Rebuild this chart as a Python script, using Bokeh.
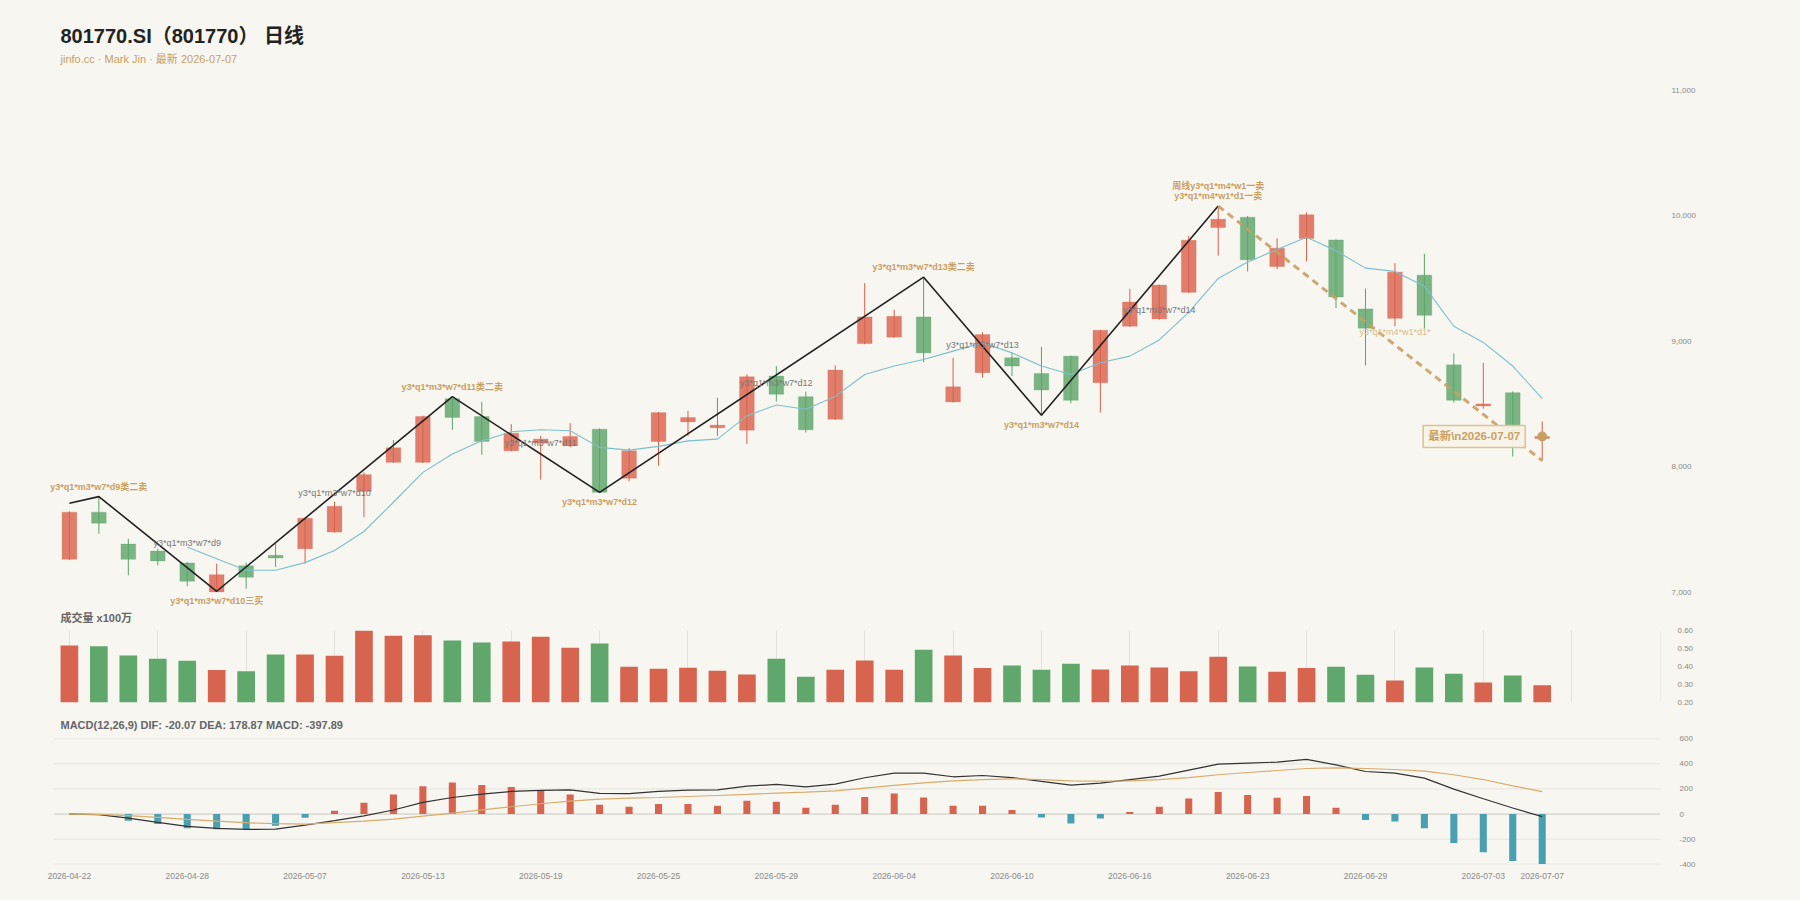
from bokeh.plotting import figure
from bokeh.layouts import column
from bokeh.models import (Range1d, LinearAxis, FixedTicker, NumeralTickFormatter,
                          Title, Label, LabelSet, ColumnDataSource)
from bokeh.core.properties import value
from bokeh.embed import file_html
from bokeh.resources import INLINE

# ---------------- data ----------------
dates = ["2026-04-22", "2026-04-23", "2026-04-24", "2026-04-27", "2026-04-28", "2026-04-29",
         "2026-04-30", "2026-05-06", "2026-05-07", "2026-05-08", "2026-05-11", "2026-05-12",
         "2026-05-13", "2026-05-14", "2026-05-15", "2026-05-18", "2026-05-19", "2026-05-20",
         "2026-05-21", "2026-05-22", "2026-05-25", "2026-05-26", "2026-05-27", "2026-05-28",
         "2026-05-29", "2026-06-01", "2026-06-02", "2026-06-03", "2026-06-04", "2026-06-05",
         "2026-06-08", "2026-06-09", "2026-06-10", "2026-06-11", "2026-06-12", "2026-06-15",
         "2026-06-16", "2026-06-17", "2026-06-18", "2026-06-22", "2026-06-23", "2026-06-24",
         "2026-06-25", "2026-06-26", "2026-06-29", "2026-06-30", "2026-07-01", "2026-07-02",
         "2026-07-03", "2026-07-06", "2026-07-07"]

opens = [7262, 7638, 7384, 7328, 7233, 7003, 7212, 7294, 7347, 7479, 7804, 8035, 8035,
         8542, 8400, 8127, 8188, 8167, 8299, 7908, 8201, 8357, 8310, 8291, 8722, 8558,
         8378, 8981, 9032, 9193, 8516, 8749, 8868, 8743, 8881, 8669, 9119, 9177, 9389,
         9905, 9987, 9595, 9817, 9807, 9257, 9182, 9526, 8812, 8484, 8590, 8225]
closes = [7638, 7550, 7262, 7249, 7087, 7140, 7119, 7273, 7590, 7685, 7937, 8151, 8400,
          8392, 8201, 8267, 8220, 8241, 7796, 8127, 8431, 8392, 8331, 8717, 8577, 8294,
          8770, 9193, 9198, 8907, 8637, 9053, 8802, 8611, 8529, 9087, 9312, 9447, 9804,
          9971, 9648, 9741, 10008, 9352, 9103, 9550, 9206, 8529, 8500, 8244, 8241]
highs = [7645, 7765, 7426, 7347, 7241, 7228, 7236, 7386, 7595, 7722, 7955, 8212, 8405,
         8558, 8516, 8339, 8246, 8347, 8304, 8148, 8435, 8445, 8550, 8736, 8802, 8598,
         8807, 9463, 9251, 9511, 8868, 9071, 8907, 8955, 8885, 9090, 9418, 9450, 9839,
         10077, 9997, 9820, 10026, 9810, 9418, 9622, 9696, 8902, 8828, 8600, 8360]
lows = [7258, 7466, 7135, 7214, 7048, 7003, 7029, 7201, 7228, 7475, 7598, 8030, 8030,
        8294, 8095, 8122, 7897, 8154, 7791, 7884, 8008, 8246, 8246, 8180, 8519, 8273,
        8374, 8976, 9028, 8833, 8512, 8709, 8722, 8410, 8505, 8431, 9113, 9172, 9384,
        9680, 9555, 9574, 9635, 9264, 8807, 9119, 9100, 8510, 8463, 8081, 8048]

volumes = [0.516, 0.512, 0.461, 0.442, 0.431, 0.379, 0.373, 0.466, 0.466, 0.459,
           0.600, 0.570, 0.574, 0.544, 0.533, 0.539, 0.565, 0.503, 0.527, 0.397,
           0.386, 0.392, 0.375, 0.355, 0.442, 0.342, 0.381, 0.433, 0.381, 0.492,
           0.461, 0.390, 0.405, 0.381, 0.414, 0.382, 0.405, 0.394, 0.373, 0.453,
           0.399, 0.370, 0.390, 0.397, 0.353, 0.321, 0.394, 0.358, 0.310, 0.349, 0.295]

ma_start = 4
ma_values = [7360, 7267, 7175, 7175, 7236, 7333, 7484, 7717, 7955, 8101, 8206, 8278,
             8294, 8286, 8154, 8132, 8162, 8206, 8220, 8405, 8492, 8458, 8560, 8735,
             8802, 8854, 8921, 8987, 8907, 8802, 8735, 8828, 8881, 9010, 9230, 9500,
             9630, 9730, 9828, 9720, 9582, 9556, 9437, 9119, 8990, 8802, 8542]

zz_idx = [0, 1, 5, 13, 18, 29, 33, 39]
zz_val = [7709, 7762, 7008, 8558, 7796, 9510, 8410, 10077]
trend_idx = [39, 50]
trend_val = [10077, 8048]

sig_idx = [1, 5, 13, 18, 29, 33]
sig_text = ["y3*q1*m3*w7*d9类二卖", "y3*q1*m3*w7*d10三买", "y3*q1*m3*w7*d11类二卖",
            "y3*q1*m3*w7*d12", "y3*q1*m3*w7*d13类二卖", "y3*q1*m3*w7*d14"]
sig_side = ["above", "below", "above", "below", "above", "below"]
top_sig_idx = 39
top_sig_text = "周线y3*q1*m4*w1一卖\ny3*q1*m4*w1*d1一卖"

mid_idx = [4, 9, 16, 24, 31, 37]
mid_val = [7394, 7789, 8188, 8664, 8968, 9251]
mid_text = ["y3*q1*m3*w7*d9", "y3*q1*m3*w7*d10", "y3*q1*m3*w7*d11",
            "y3*q1*m3*w7*d12", "y3*q1*m3*w7*d13", "y3*q1*m3*w7*d14"]
pend_idx = [45]
pend_val = [9071]
pend_text = ["y3*q1*m4*w1*d1*"]

dif = [0, -5, -32, -66, -98, -114, -122, -120, -88, -53, -14, 32, 93, 132, 159, 180, 188,
       193, 164, 162, 180, 191, 193, 222, 236, 217, 238, 289, 326, 326, 297, 307, 291, 260,
       230, 246, 275, 302, 350, 398, 406, 414, 435, 392, 339, 326, 286, 199, 122, 48, -20]
dea = [0, -2, -13, -27, -43, -56, -69, -77, -80, -69, -56, -40, -16, 8, 34, 58, 82, 103,
       119, 127, 132, 140, 148, 156, 167, 175, 185, 207, 228, 249, 265, 275, 281, 275, 265,
       262, 265, 275, 291, 313, 331, 347, 363, 368, 363, 355, 342, 313, 275, 225, 179]
hist = [0, -8, -53, -80, -114, -122, -122, -93, -29, 27, 90, 156, 222, 252, 231, 215, 186,
        156, 74, 58, 80, 80, 66, 106, 98, 50, 74, 135, 164, 132, 66, 66, 32, -27, -75, -35,
        16, 58, 124, 175, 151, 130, 143, 50, -48, -59, -114, -231, -305, -374, -398]

price_ticks = [7000, 8000, 9000, 10000, 11000]
vol_ticks = [0.2, 0.3, 0.4, 0.5, 0.6]
macd_ticks = [-400, -200, 200, 400, 600]
macd_zero = [0]
date_ticks = [0, 4, 8, 12, 16, 20, 24, 28, 32, 36, 40, 44, 48, 50]

title_text = "801770.SI（801770） 日线"
subtitle_text = "jinfo.cc · Mark Jin · 最新 2026-07-07"
vol_title = "成交量 x100万"
macd_title = "MACD(12,26,9) DIF: -20.07 DEA: 178.87 MACD: -397.89"
latest_text = "最新\\n2026-07-07"

# ---------------- styles ----------------
FONT = "Liberation Sans, Noto Sans CJK SC, sans-serif"
BG = "#f7f6f1"
UP = "#d9604a"
DOWN = "#5aa468"
VUP = "#d6644f"
VDOWN = "#5fa76a"
TAN = "#c9a063"
TEAL = "#4a9fb0"
LBL = "#8a8a8a"
SLOT = 29.456          # pixels per bar slot
X_END = 54.016         # right end of the category axis
X_START = -0.574 - 12 / SLOT
GRID_X0 = -0.53        # where the MACD grid lines begin

N = len(dates)
idx = list(range(N))
xr = Range1d(X_START, X_END)

up = [c >= o for o, c in zip(opens, closes)]
src = ColumnDataSource(dict(
    x=idx, high=highs, low=lows,
    top=[max(o, c) for o, c in zip(opens, closes)],
    bottom=[min(o, c) for o, c in zip(opens, closes)],
    color=[UP if u else DOWN for u in up],
    vcolor=[VUP if u else VDOWN for u in up],
    vol=volumes,
    hist=hist,
    hcolor=[VUP if h >= 0 else TEAL for h in hist],
))


def make_fig(height, top, bottom, yr):
    p = figure(width=1800, height=height, x_range=xr, y_range=yr,
               output_backend="svg", toolbar_location=None,
               x_axis_location=None, y_axis_location=None,
               min_border_left=40, min_border_right=140,
               min_border_top=top, min_border_bottom=bottom,
               background_fill_color=BG, border_fill_color=BG,
               outline_line_color=None)
    return p


def right_axis(ticks, fmt, standoff):
    ax = LinearAxis(ticker=FixedTicker(ticks=ticks), formatter=NumeralTickFormatter(format=fmt),
                    axis_line_color=None, major_tick_line_color=None,
                    minor_tick_line_color=None, major_tick_out=0, major_tick_in=0,
                    major_label_standoff=standoff,
                    major_label_text_font=FONT,
                    major_label_text_font_size="8px",
                    major_label_text_color=LBL)
    return ax


# ---------------- price panel ----------------
p1 = make_fig(624, 66, 14, Range1d(6870.6, 11188.1))
p1.grid.visible = False
p1.add_layout(Title(text=subtitle_text, align="left", offset=20, standoff=4,
                    text_font=FONT, text_font_size="11px",
                    text_font_style="normal", text_color=TAN), "above")
p1.add_layout(Title(text=title_text, align="left", offset=20, standoff=4,
                    text_font=FONT, text_font_size="20px",
                    text_font_style="bold", text_color="#222222"), "above")
p1.add_layout(Title(text=vol_title, align="left", offset=20, standoff=2,
                    text_font=FONT, text_font_size="11px",
                    text_font_style="bold", text_color="#666666"), "below")
p1.add_layout(right_axis(price_ticks, "0,0", 11), "right")

p1.segment(x0="x", y0="low", x1="x", y1="high", color="color", line_width=1, source=src)
p1.vbar(x="x", width=0.5, top="top", bottom="bottom", fill_color="color", fill_alpha=0.8,
        line_color="color", line_alpha=0.25, source=src)
p1.line(list(range(ma_start, N)), ma_values, color="#7dbfcc", line_width=1.1)
p1.line(zz_idx, zz_val, color="#222222", line_width=1.6)
p1.line(trend_idx, trend_val, color=TAN, line_width=3, line_dash="7 5", line_alpha=0.9)

zz_map = dict(zip(zz_idx, zz_val))
sig_src = ColumnDataSource(dict(
    x=sig_idx, y=[zz_map[i] for i in sig_idx], text=sig_text,
    yo=[10 if s == "above" else -10 for s in sig_side]))
p1.add_layout(LabelSet(x="x", y="y", text="text", y_offset="yo", source=sig_src,
                       text_align="center", text_baseline="middle",
                       text_font=value(FONT), text_font_size="9px",
                       text_font_style="bold", text_color=TAN))
p1.text(x=[top_sig_idx], y=[zz_map[top_sig_idx]], text=[top_sig_text], y_offset=-5,
        text_align="center", text_baseline="bottom", text_line_height=1.0,
        text_font=value(FONT), text_font_size="9px", text_font_style="bold", text_color=TAN)
p1.text(x=mid_idx, y=mid_val, text=mid_text, text_align="center", text_baseline="middle",
        text_font=value(FONT), text_font_size="9px", text_color="#777777")
p1.text(x=pend_idx, y=pend_val, text=pend_text, text_align="center", text_baseline="middle",
        text_font=value(FONT), text_font_size="9px", text_color="#d6bb88")

p1.scatter(x=[idx[-1]], y=[closes[-1]], size=10, color=TAN, line_color=None)
p1.add_layout(Label(x=idx[-1], y=closes[-1], x_offset=-17, text=latest_text,
                    text_align="right", text_baseline="middle",
                    text_font=FONT, text_font_size="11.5px", text_font_style="bold",
                    text_color=TAN, background_fill_color="#f8f3e8", background_fill_alpha=0.95,
                    border_line_color="#dcc392", border_line_width=1.5, padding=5))

# ---------------- volume panel ----------------
p2 = make_fig(84, 6, 6, Range1d(0.198, 0.6))
p2.ygrid.visible = False
p2.xgrid.ticker = FixedTicker(ticks=list(range(0, 55, 3)))
p2.xgrid.grid_line_color = "#e4e2dc"
p2.add_layout(right_axis(vol_ticks, "0.00", 17), "right")
p2.vbar(x="x", width=0.6, top="vol", bottom=0, fill_color="vcolor", line_color=None,
        source=src)

# ---------------- MACD panel ----------------
p3 = make_fig(192, 30, 36, Range1d(-402, 602))
p3.grid.visible = False
p3.segment(x0=[GRID_X0] * len(macd_ticks), x1=[X_END] * len(macd_ticks),
           y0=macd_ticks, y1=macd_ticks, line_color="#e4e2dc", line_width=1)
p3.segment(x0=[GRID_X0], x1=[X_END], y0=macd_zero, y1=macd_zero,
           line_color="#c9c7c2", line_width=1)
p3.add_layout(Title(text=macd_title, align="left", offset=20, standoff=15,
                    text_font=FONT, text_font_size="11px",
                    text_font_style="bold", text_color="#666666"), "above")
p3.add_layout(right_axis(sorted(macd_ticks + macd_zero), "0", 19), "right")
xax = LinearAxis(ticker=FixedTicker(ticks=date_ticks),
                 major_label_overrides={i: dates[i] for i in date_ticks},
                 axis_line_color=None, major_tick_line_color=None,
                 minor_tick_line_color=None, major_tick_out=0, major_tick_in=0,
                 major_label_standoff=8,
                 major_label_text_font=FONT, major_label_text_font_size="8.5px",
                 major_label_text_color=LBL)
p3.add_layout(xax, "below")
p3.vbar(x="x", width=0.24, top="hist", bottom=0, fill_color="hcolor", line_color=None,
        source=src)
p3.line(idx, dif, color="#333333", line_width=1.2)
p3.line(idx, dea, color="#d8ac6c", line_width=1.2)

layout = column(p1, p2, p3, spacing=0, styles={"background-color": BG})
html = file_html(layout, INLINE, title="801770.SI")
html = html.replace("<body>", '<body style="margin:0;background:%s;">' % BG)
open("out.html", "w").write(html)
